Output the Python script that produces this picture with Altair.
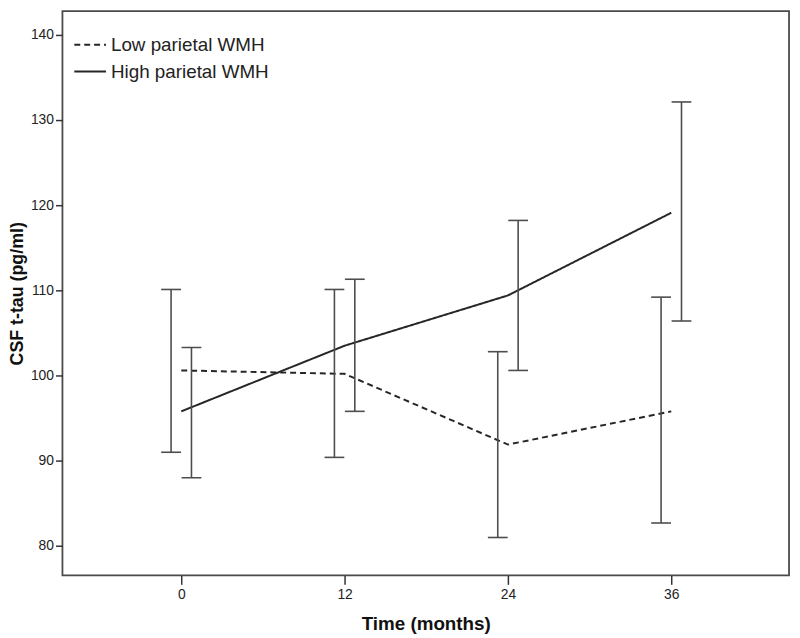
import altair as alt
import pandas as pd

# ---- data ----
months = [0, 12, 24, 36]
groups = ["Low parietal WMH", "High parietal WMH"]

low_mean = [100.6, 100.2, 91.9, 95.8]
low_lower = [91.0, 90.4, 81.0, 82.7]
low_upper = [110.1, 110.1, 102.8, 109.2]

high_mean = [95.8, 103.5, 109.4, 119.1]
high_lower = [88.0, 95.8, 100.6, 106.4]
high_upper = [103.3, 111.3, 118.2, 132.1]

y_ticks = [80, 90, 100, 110, 120, 130, 140]

rows = []
for g, mean, lo, hi in [
    (groups[0], low_mean, low_lower, low_upper),
    (groups[1], high_mean, high_lower, high_upper),
]:
    for m, a, b, c in zip(months, mean, lo, hi):
        rows.append({"month": m, "group": g, "mean": a, "lower": b, "upper": c})
df = pd.DataFrame(rows)

FONT = "Liberation Sans"
LINE_COLOR = "#262626"
BAR_COLOR = "#4d4d4d"

x_scale = alt.Scale(domain=[-8.73, 44.65], nice=False, zero=False)
y_scale = alt.Scale(domain=[76.55, 142.75], nice=False, zero=False)

x_axis = alt.Axis(
    values=months, title="Time (months)", tickSize=9, tickWidth=1.5, tickColor="#333",
    labelPadding=3, labelFont=FONT, labelFontSize=14, labelColor="#222",
    titleFont=FONT, titleFontSize=19, titleFontWeight="bold", titleColor="#111",
    titleY=55, titleBaseline="alphabetic", domain=False, grid=False,
)
y_axis = alt.Axis(
    values=y_ticks, title="CSF t-tau (pg/ml)", tickSize=7, tickWidth=1.5, tickColor="#333",
    labelPadding=2, labelFont=FONT, labelFontSize=14, labelColor="#222",
    titleFont=FONT, titleFontSize=18, titleFontWeight="bold", titleColor="#111",
    titleX=-45, titleAlign="center", titleBaseline="middle", domain=False, grid=False,
)

base = alt.Chart(df)

lines = base.mark_line(color=LINE_COLOR, strokeWidth=2).encode(
    x=alt.X("month:Q", scale=x_scale, axis=x_axis),
    y=alt.Y("mean:Q", scale=y_scale, axis=y_axis),
    strokeDash=alt.StrokeDash(
        "group:N",
        scale=alt.Scale(domain=groups, range=[[6, 4], [1, 0]]),
        legend=alt.Legend(
            title=None, orient="none", legendX=11, legendY=17,
            symbolType="stroke", symbolSize=1024, symbolStrokeWidth=2,
            symbolStrokeColor=LINE_COLOR, labelFont=FONT, labelFontSize=19,
            labelColor="#222", labelOffset=4, rowPadding=-5, padding=0,
        ),
    ),
)


def error_bars(group, offset):
    b = base.transform_filter(alt.datum.group == group)
    rule = b.mark_rule(color=BAR_COLOR, strokeWidth=1.6, xOffset=offset).encode(
        x=alt.X("month:Q", scale=x_scale),
        y=alt.Y("lower:Q", scale=y_scale),
        y2="upper:Q",
    )
    cap_lo = b.mark_tick(
        orient="horizontal", size=20, thickness=1.6, color=BAR_COLOR, opacity=1, xOffset=offset
    ).encode(x=alt.X("month:Q", scale=x_scale), y=alt.Y("lower:Q", scale=y_scale))
    cap_hi = b.mark_tick(
        orient="horizontal", size=20, thickness=1.6, color=BAR_COLOR, opacity=1, xOffset=offset
    ).encode(x=alt.X("month:Q", scale=x_scale), y=alt.Y("upper:Q", scale=y_scale))
    return rule + cap_lo + cap_hi


chart = (
    alt.layer(lines, error_bars(groups[0], -10.3), error_bars(groups[1], 10.3))
    .properties(
        width=734,
        height=570,
        autosize=alt.AutoSizeParams(type="none"),
        padding={"left": 55, "top": 0, "right": 3, "bottom": 60},
        background="white",
    )
    .configure_view(stroke="#4a4a4a", strokeWidth=1.8)
)

chart.save("out.html", embed_options={"renderer": "svg", "actions": False})
